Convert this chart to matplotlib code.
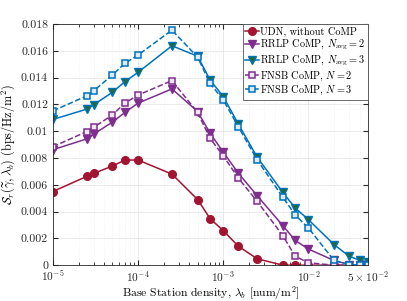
import numpy as np
import matplotlib
matplotlib.use("Agg")
import matplotlib.pyplot as plt
from matplotlib.ticker import NullFormatter

plt.rcParams["font.family"] = "serif"
plt.rcParams["font.serif"] = ["cmr10", "DejaVu Serif"]
plt.rcParams["mathtext.fontset"] = "cm"
plt.rcParams["axes.formatter.use_mathtext"] = True

# base station density (num/m^2)
lam = [1e-5, 2.5e-5, 3e-5, 5e-5, 7e-5, 1e-4, 2.5e-4, 5e-4, 7e-4, 1e-3,
       1.5e-3, 2.5e-3, 5e-3, 7e-3, 1e-2, 2e-2, 3e-2, 4e-2, 5e-2]

udn = [0.0055, 0.00663, 0.00685, 0.0074, 0.00785, 0.00785, 0.0068, 0.0049,
       0.00348, 0.00258, 0.00142, 0.00048, 0.0, 0.0, 0.0, 0.0, 0.0, 0.0, 0.0]
rrlp2 = [0.00862, 0.00943, 0.00978, 0.01068, 0.0114, 0.0121, 0.01316, 0.01147,
         0.00986, 0.00844, 0.00688, 0.00519, 0.00296, 0.00185, 0.0012, 0.00035,
         0.00005, 0.0, 0.0]
rrlp3 = [0.01088, 0.01165, 0.01197, 0.01291, 0.0137, 0.0144, 0.01638, 0.0156,
         0.01383, 0.01259, 0.01055, 0.00807, 0.00544, 0.00427, 0.0034, 0.00154,
         0.00067, 0.00037, 0.00022]
fnsb2 = [0.00884, 0.00998, 0.01028, 0.01122, 0.0121, 0.0127, 0.01378, 0.0114,
         0.00947, 0.00817, 0.00651, 0.00477, 0.00221, 0.00067, 0.00018, 0.0,
         0.0, 0.0, 0.0]
fnsb3 = [0.01152, 0.01264, 0.01301, 0.0142, 0.01507, 0.01569, 0.01755, 0.01553,
         0.01358, 0.01234, 0.01035, 0.00787, 0.00508, 0.00375, 0.00278, 0.00035,
         0.00005, 0.0, 0.0]

labels = ["UDN, without CoMP",
          r"RRLP CoMP, $N_{\rm avg}=2$",
          r"RRLP CoMP, $N_{\rm avg}=3$",
          r"FNSB CoMP, $N=2$",
          r"FNSB CoMP, $N=3$"]

red = "#A2142F"
purple = "#7E2F8E"
blue = "#0072BD"
green = "#1E6B3C"

fig = plt.figure(figsize=(4.07, 3.01), dpi=100)
ax = fig.add_axes([0.130, 0.119, 0.774, 0.801])

ax.plot(lam, udn, "-o", color=red, mfc=red, ms=5.5, lw=1.1, label=labels[0])
ax.plot(lam, rrlp2, "-v", color=purple, mfc=purple, ms=6, lw=1.1, label=labels[1])
ax.plot(lam, rrlp3, "-v", color=blue, mfc=green, mec=blue, ms=6, lw=1.1, label=labels[2])
ax.plot(lam, fnsb2, "--s", color=purple, mfc="#f0e4f2", ms=5, mew=1.1, lw=1.1, label=labels[3])
ax.plot(lam, fnsb3, "--s", color=blue, mfc="#dcebf7", ms=5, mew=1.1, lw=1.1, label=labels[4])

ax.set_xscale("log")
ax.set_xlim(1e-5, 5e-2)
ax.set_ylim(0, 0.018)

ax.set_xticks([1e-5, 1e-4, 1e-3, 1e-2, 5e-2])
ax.set_xticklabels([r"$10^{-5}$", r"$10^{-4}$", r"$10^{-3}$", r"$10^{-2}$",
                    r"$5\times10^{-2}$"])
ax.xaxis.set_minor_formatter(NullFormatter())
yt = np.arange(0, 0.0181, 0.002)
ax.set_yticks(yt)
ax.set_yticklabels(["0", "0.002", "0.004", "0.006", "0.008", "0.01",
                    "0.012", "0.014", "0.016", "0.018"])

ax.tick_params(which="both", direction="in", top=True, right=True,
               labelsize=8.5, colors="#262626")
ax.tick_params(which="major", length=3.5)
ax.tick_params(which="minor", length=2)
ax.tick_params(axis="x", which="major", pad=3, labelsize=8.2)
ax.grid(True, which="major", color="#e6e6e6", lw=0.6)
ax.grid(True, which="minor", color="#ececec", lw=0.5, ls=":")
ax.set_axisbelow(True)
for s in ax.spines.values():
    s.set_color("#262626")
    s.set_linewidth(0.6)

ax.set_xlabel(r"Base Station density, $\lambda_b$ [num/m$^2$]", fontsize=8.4, labelpad=-0.5)
ax.set_ylabel(r"$\mathcal{S}_r(\widetilde{\gamma},\lambda_b)$ (bps/Hz/m$^2$)",
              fontsize=8.8, labelpad=3)

leg = ax.legend(loc="upper right", bbox_to_anchor=(1, 1), borderaxespad=0,
                fontsize=7.4, fancybox=False, framealpha=1, edgecolor="#555555",
                handlelength=1.3, handletextpad=0.15, labelspacing=0.12,
                borderpad=0.25)
leg.get_frame().set_linewidth(0.6)

fig.savefig("out.png", dpi=100)
